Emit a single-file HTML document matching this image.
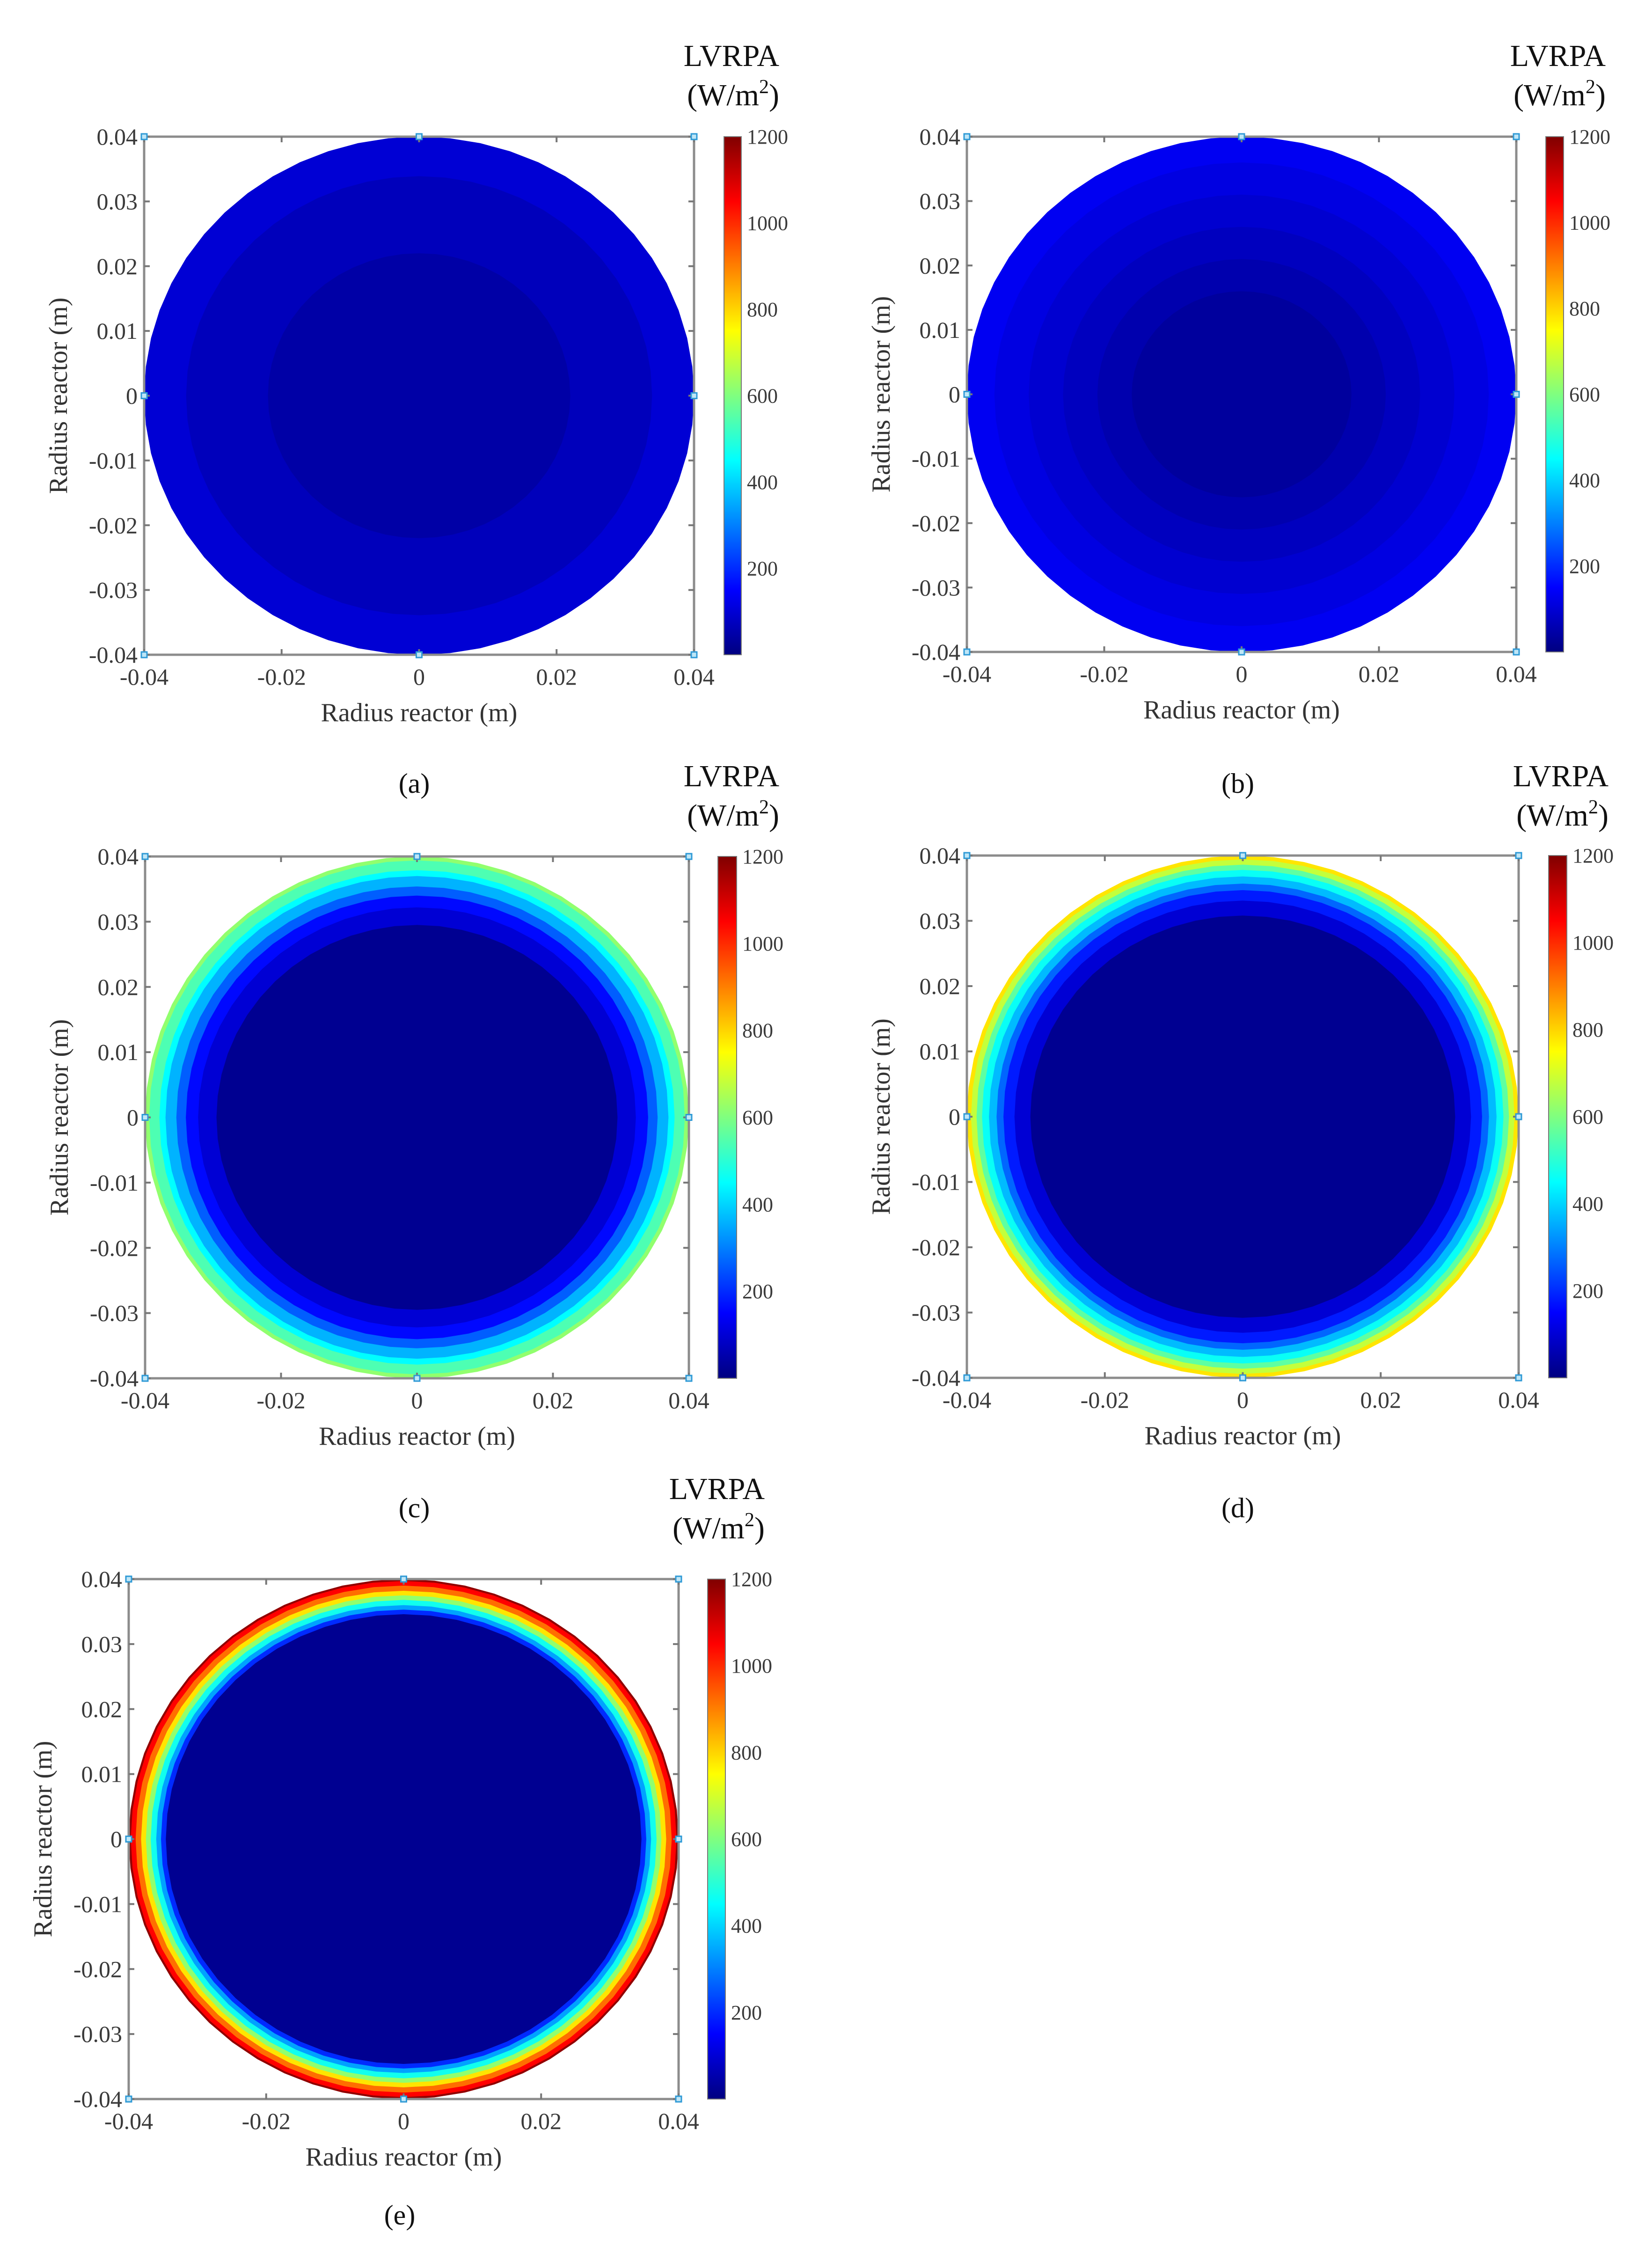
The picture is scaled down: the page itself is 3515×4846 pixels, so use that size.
<!DOCTYPE html>
<html><head><meta charset="utf-8">
<style>
html,body{margin:0;padding:0;background:#fff;}
svg{display:block;}
text{font-family:"Liberation Serif",serif;}
</style></head>
<body>
<svg id="fig" width="3515" height="4846" viewBox="0 0 3515 4846" xmlns="http://www.w3.org/2000/svg">
<defs>
<linearGradient id="jet" x1="0" y1="1" x2="0" y2="0">
<stop offset="0" stop-color="#000080"/><stop offset="0.125" stop-color="#0000ff"/>
<stop offset="0.375" stop-color="#00ffff"/><stop offset="0.625" stop-color="#ffff00"/>
<stop offset="0.875" stop-color="#ff0000"/><stop offset="1" stop-color="#800000"/>
</linearGradient>
</defs>
</svg>
<script>
// Panel data: ring radii (m, outer to inner) and LVRPA values (W/m2)
const panelNames = ['a','b','c','d','e'];
const radiiA = [0.040, 0.0339, 0.022];
const valuesA = [100, 70, 45];
const radiiB = [0.040, 0.036, 0.031, 0.026, 0.021, 0.016];
const valuesB = [135, 115, 95, 75, 55, 35];
const radiiC = [0.040, 0.0394, 0.0379, 0.037, 0.0354, 0.034, 0.0322, 0.0295];
const valuesC = [620, 540, 450, 360, 260, 160, 100, 20];
const radiiD = [0.040, 0.0394, 0.0386, 0.0378, 0.0368, 0.0357, 0.0347, 0.0331, 0.0308];
const valuesD = [780, 680, 560, 460, 370, 270, 180, 100, 20];
const radiiE = [0.040, 0.0397, 0.0390, 0.0382, 0.0375, 0.0368, 0.0360, 0.0353, 0.0346];
const valuesE = [1180, 1050, 920, 780, 620, 470, 340, 200, 20];
const axisTicksY = [0.04, 0.03, 0.02, 0.01, 0, -0.01, -0.02, -0.03, -0.04];
const axisTickLabelsY = ['0.04','0.03','0.02','0.01','0','-0.01','-0.02','-0.03','-0.04'];
const axisTicksX = [-0.04, -0.02, 0, 0.02, 0.04];
const axisTickLabelsX = ['-0.04','-0.02','0','0.02','0.04'];
const cbTicks = [200, 400, 600, 800, 1000, 1200];
const cbMin = 0, cbMax = 1200;

const layouts = [
 {x0:308,x1:1483,y0:292,y1:1399,cb0:1547,cb1:1584,lvx:1665,lvy:117,lab:[885,1674]},
 {x0:2066,x1:3240,y0:292,y1:1393,cb0:3303,cb1:3341,lvx:3431,lvy:117,lab:[2645,1674]},
 {x0:310,x1:1472,y0:1830,y1:2945,cb0:1534,cb1:1574,lvx:1665,lvy:1656,lab:[885,3222]},
 {x0:2066,x1:3245,y0:1828,y1:2944,cb0:3309,cb1:3348,lvx:3437,lvy:1656,lab:[2645,3222]},
 {x0:275,x1:1450,y0:3374,y1:4485,cb0:1512,cb1:1550,lvx:1634,lvy:3179,lab:[854,4733]}
];
const radiiSets=[radiiA,radiiB,radiiC,radiiD,radiiE];
const valueSets=[valuesA,valuesB,valuesC,valuesD,valuesE];

const NS='http://www.w3.org/2000/svg';
const svg=document.getElementById('fig');
function mk(tag,attrs,parent){const e=document.createElementNS(NS,tag);for(const k in attrs)e.setAttribute(k,attrs[k]);(parent||svg).appendChild(e);return e;}
function jet(v){
  let t=Math.max(0,Math.min(1,(v-cbMin)/(cbMax-cbMin)));
  const f=(x)=>Math.max(0,Math.min(1,1.5-Math.abs(4*t-x)));
  const r=f(3),g=f(2),b=f(1);
  return 'rgb('+Math.round(r*255)+','+Math.round(g*255)+','+Math.round(b*255)+')';
}

layouts.forEach((L,i)=>{
  const g=mk('g',{});
  
  
  const sx=(v)=>L.x0+(v+0.04)/0.08*(L.x1-L.x0);
  const sy=(v)=>L.y1-(v+0.04)/0.08*(L.y1-L.y0);
  const cx=sx(0), cy=sy(0);
  const radii=radiiSets[i], vals=valueSets[i];
  radii.forEach((r,k)=>{
    const rx=r/0.08*(L.x1-L.x0), ry=r/0.08*(L.y1-L.y0);
    let pts=[];const n=56;
    for(let j=0;j<n;j++){const a=j/n*2*Math.PI;pts.push((cx+rx*Math.cos(a)).toFixed(1)+','+(cy+ry*Math.sin(a)).toFixed(1));}
    const p=mk('polygon',{points:pts.join(' '),fill:jet(vals[k])},g);
    
    
  });
  const box=mk('rect',{x:L.x0,y:L.y0,width:L.x1-L.x0,height:L.y1-L.y0,fill:'none',stroke:'#8c8c8c','stroke-width':5},g);
  
  
  axisTicksY.forEach((t,k)=>{
    const y=sy(t);
    mk('line',{x1:L.x0,y1:y,x2:L.x0+12,y2:y,stroke:'#777','stroke-width':4},g);
    mk('line',{x1:L.x1,y1:y,x2:L.x1-12,y2:y,stroke:'#777','stroke-width':4},g);
    const tx=mk('text',{x:L.x0-14,y:y+17,'font-size':50,fill:'#3a3a3a','text-anchor':'end'},g);
    tx.textContent=axisTickLabelsY[k];
    
    
  });
  axisTicksX.forEach((t,k)=>{
    const x=sx(t);
    mk('line',{x1:x,y1:L.y1,x2:x,y2:L.y1-12,stroke:'#777','stroke-width':4},g);
    mk('line',{x1:x,y1:L.y0,x2:x,y2:L.y0+12,stroke:'#777','stroke-width':4},g);
    const tx=mk('text',{x:x,y:L.y1+64,'font-size':50,fill:'#3a3a3a','text-anchor':'middle'},g);
    tx.textContent=axisTickLabelsX[k];
    
    
  });
  [[-0.04,-0.04],[0,-0.04],[0.04,-0.04],[-0.04,0],[0.04,0],[-0.04,0.04],[0,0.04],[0.04,0.04]].forEach(m=>{
    mk('rect',{x:sx(m[0])-6,y:sy(m[1])-6,width:12,height:12,fill:'#bfe6f7',stroke:'#2f9ad6','stroke-width':3},g);
  });
  const xl=mk('text',{x:cx,y:L.y1+142,'font-size':56,fill:'#333','text-anchor':'middle'},g);
  xl.textContent='Radius reactor (m)';
  
  
  const ylx=L.x0-165;
  const yl=mk('text',{x:ylx,y:cy,'font-size':56,fill:'#333','text-anchor':'middle',transform:'rotate(-90 '+ylx+' '+cy+')'},g);
  yl.textContent='Radius reactor (m)';
  
  
  const cb=mk('rect',{x:L.cb0,y:L.y0,width:L.cb1-L.cb0,height:L.y1-L.y0,fill:'url(#jet)',stroke:'#777','stroke-width':2},g);
  
  
  const cy2=(v)=>L.y1-(v-cbMin)/(cbMax-cbMin)*(L.y1-L.y0);
  cbTicks.forEach(t=>{
    const y=cy2(t);
    const tx=mk('text',{x:L.cb1+12,y:y+15,'font-size':44,fill:'#3a3a3a'},g);
    tx.textContent=String(t);
    
    
  });
  const t1=mk('text',{x:L.lvx,y:L.lvy+24,'font-size':66,fill:'#111','text-anchor':'end'},g);
  t1.textContent='LVRPA';
  
  
  const t2=mk('text',{x:L.lvx,y:L.lvy+108,'font-size':66,fill:'#111','text-anchor':'end'},g);
  
  
  t2.appendChild(document.createTextNode('(W/m'));
  const sup=mk('tspan',{'font-size':42,dy:-26},t2);sup.textContent='2';
  const cl=mk('tspan',{dy:26},t2);cl.textContent=')';
  const pl=mk('text',{x:L.lab[0],y:L.lab[1]+20,'font-size':60,fill:'#111','text-anchor':'middle'},g);
  pl.textContent='('+panelNames[i]+')';
  
  
});
</script>
</body></html>
